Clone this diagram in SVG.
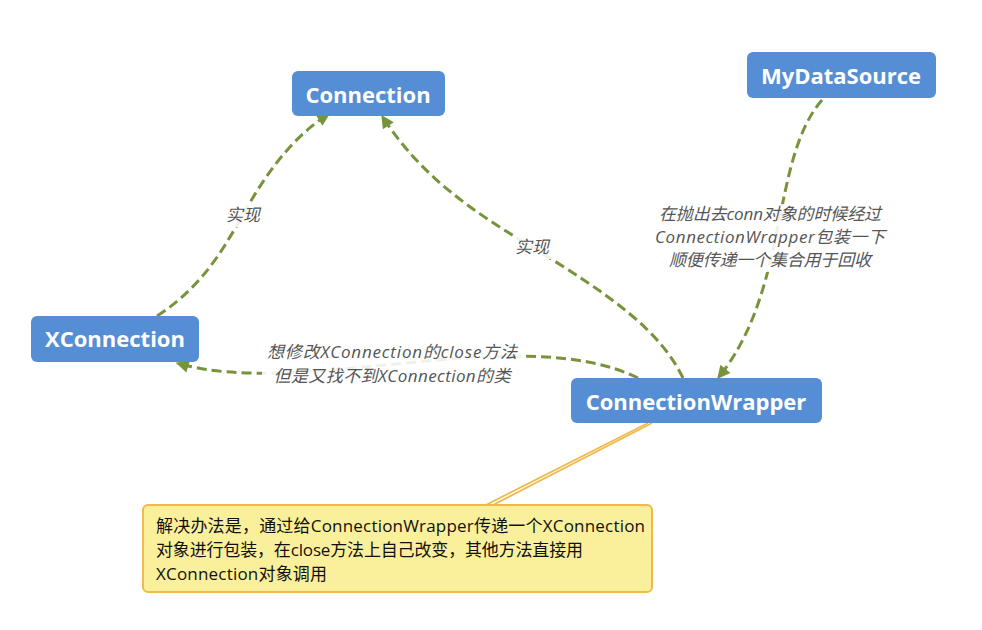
<svg xmlns="http://www.w3.org/2000/svg" width="982" height="630" viewBox="0 0 982 630">
<defs>
<style>
.node rect{fill:#558ED5;}
.node text{font-family:"Open Sans","Noto Sans",sans-serif;font-weight:bold;font-size:22px;fill:#fff;text-anchor:middle;}
.edge{fill:none;stroke:#77933C;stroke-width:3;stroke-dasharray:10 5;marker-end:url(#arr);}
.lbl{font-family:"Open Sans","Noto Sans CJK SC",sans-serif;font-style:italic;font-size:17px;fill:#555;text-anchor:middle;}
.lblbg{fill:#fff;opacity:0.88;}
.note text{font-family:"Open Sans","Noto Sans CJK SC",sans-serif;font-size:17px;fill:#111;}
</style>
<marker id="arr" viewBox="0 0 10 10" refX="9" refY="5" markerWidth="15" markerHeight="13" markerUnits="userSpaceOnUse" orient="auto">
<path d="M0,0 L10,5 L0,10 z" fill="#77933C"/>
</marker>
</defs>
<rect width="982" height="630" fill="#fff"/>

<g id="connectors">
<path class="edge" d="M157,316 C205,285 225,245 243,215 C262,180 290,138 329,114"/>
<path class="edge" d="M683,378 C660,330 610,295 532,247 C470,210 420,175 382,116"/>
<path class="edge" d="M638,378 C520,320 300,400 177,363"/>
<path class="edge" d="M822,100 C770,160 790,290 718,378"/>
<line x1="486" y1="505" x2="648" y2="423" stroke="#F0B94B" stroke-width="1.8"/>
<line x1="493" y1="505" x2="652" y2="423" stroke="#F0B94B" stroke-width="1.8"/>
</g>

<g id="labels">
<rect class="lblbg" x="223" y="204" width="40" height="23"/>
<text class="lbl" x="243" y="221">实现</text>
<rect class="lblbg" x="512" y="236" width="40" height="23"/>
<text class="lbl" x="532" y="253">实现</text>
<rect class="lblbg" x="262" y="341" width="260" height="47"/>
<text class="lbl" x="392" y="358" textLength="250" lengthAdjust="spacing">想修改XConnection的close方法</text>
<text class="lbl" x="392" y="382" textLength="237" lengthAdjust="spacing">但是又找不到XConnection的类</text>
<rect class="lblbg" x="652" y="204" width="236" height="68"/>
<text class="lbl" x="770" y="220" textLength="222" lengthAdjust="spacing">在抛出去conn对象的时候经过</text>
<text class="lbl" x="770" y="243" textLength="230" lengthAdjust="spacing">ConnectionWrapper包装一下</text>
<text class="lbl" x="770" y="266" textLength="202" lengthAdjust="spacing">顺便传递一个集合用于回收</text>
</g>

<g id="node-connection" class="node">
<rect x="292" y="71" width="153" height="45" rx="6"/>
<text x="368" y="103">Connection</text>
</g>
<g id="node-xconnection" class="node">
<rect x="31" y="316" width="168" height="46" rx="6"/>
<text x="115" y="347">XConnection</text>
</g>
<g id="node-wrapper" class="node">
<rect x="571" y="378" width="251" height="45" rx="6"/>
<text x="696" y="410">ConnectionWrapper</text>
</g>
<g id="node-datasource" class="node">
<rect x="747" y="52" width="189" height="46" rx="6"/>
<text x="841" y="84">MyDataSource</text>
</g>

<g id="note" class="note">
<rect x="143" y="505" width="509" height="87" rx="5" fill="#FAEF9B" stroke="#F0B94B" stroke-width="2"/>
<text x="156" y="532" textLength="489" lengthAdjust="spacing">解决办法是，通过给ConnectionWrapper传递一个XConnection</text>
<text x="156" y="556" textLength="427" lengthAdjust="spacing">对象进行包装，在close方法上自己改变，其他方法直接用</text>
<text x="156" y="580" textLength="171" lengthAdjust="spacing">XConnection对象调用</text>
</g>
</svg>
